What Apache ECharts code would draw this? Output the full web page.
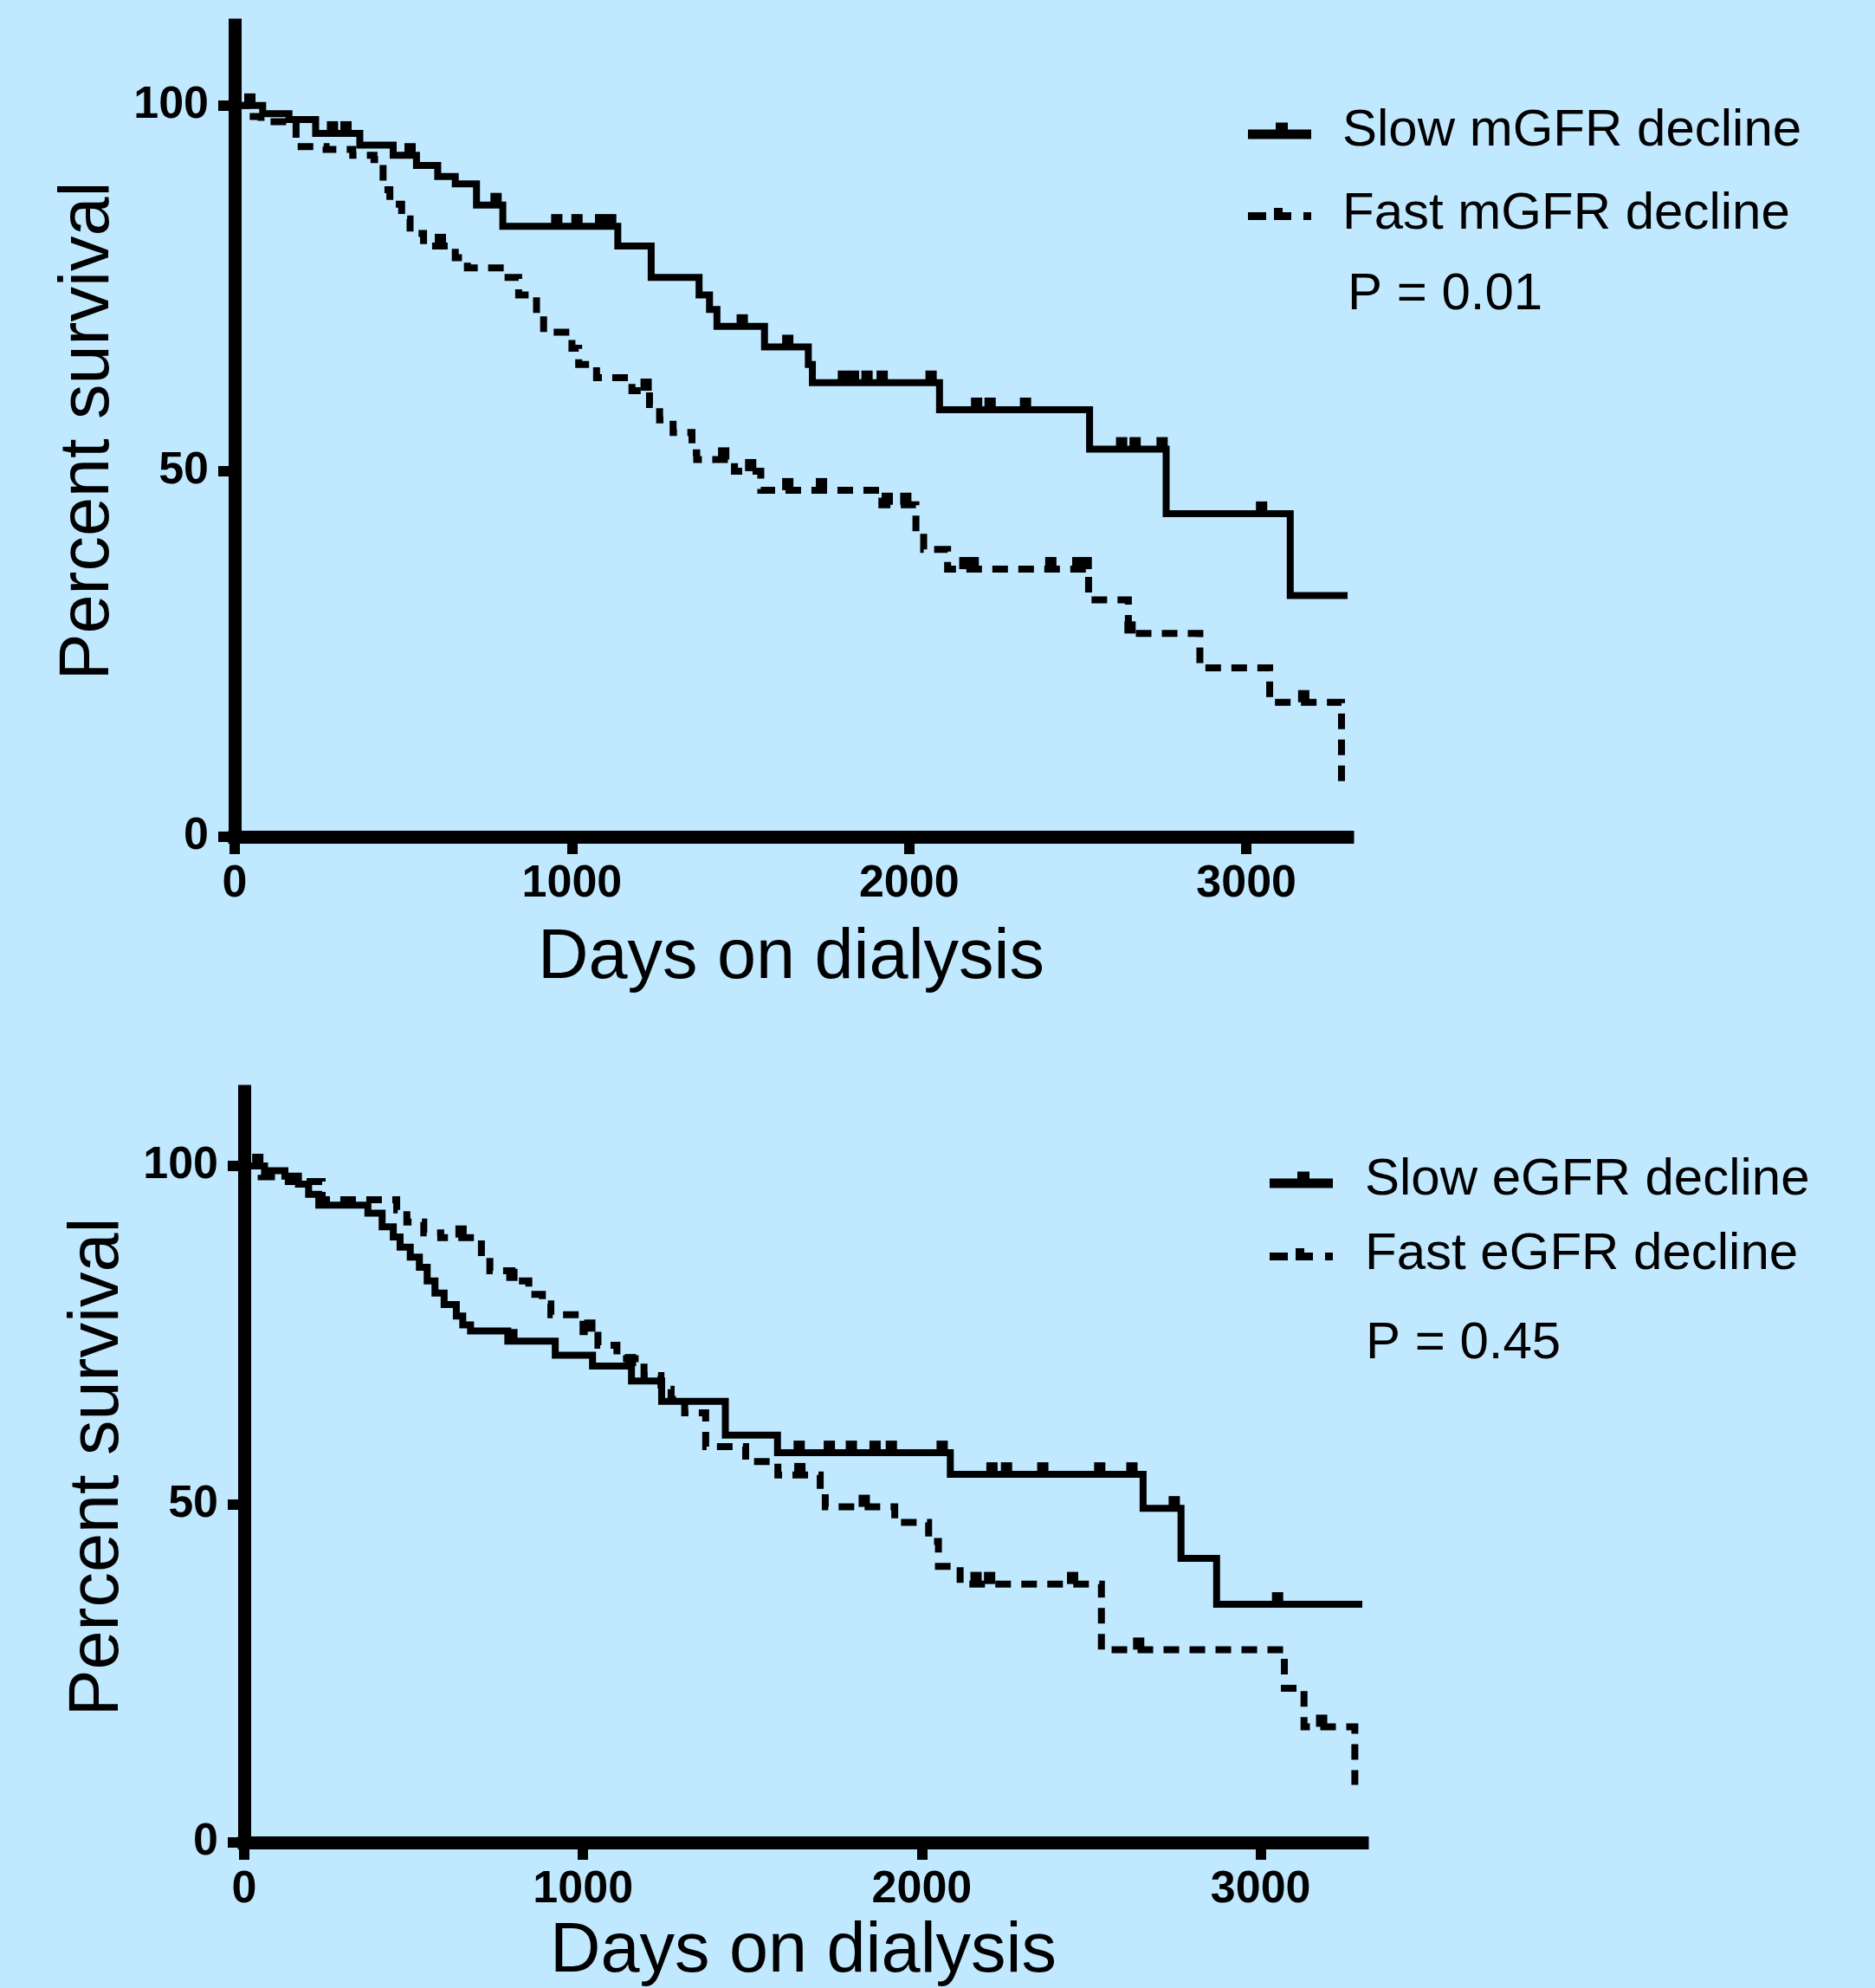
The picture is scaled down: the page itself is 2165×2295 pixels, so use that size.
<!DOCTYPE html>
<html>
<head>
<meta charset="utf-8">
<script src="https://cdn.jsdelivr.net/npm/echarts@6/dist/echarts.min.js"></script>
<style>
  html, body { margin: 0; padding: 0; background: #c0e8fe; }
  #chart { width: 2165px; height: 2295px; }
</style>
</head>
<body>
<div id="chart"></div>
<script>
// Kaplan-Meier steps: [day, percent surviving]
const slowMgfr = [[0,100],[83,98.9],[161,98.1],[240,96.2],[371,94.6],[470,93.2],[539,91.8],[602,90.3],[654,89.3],[717,86.4],[795,83.5],[1136,80.8],[1235,76.5],[1377,74.1],[1408,72.1],[1430,69.8],[1571,67.0],[1701,64.6],[1713,62.1],[2090,58.4],[2535,53.0],[2762,44.2],[3130,33.0],[3300,33.0]];
const fastMgfr = [[0,100],[36,98.5],[78,97.8],[182,94.4],[271,94.0],[350,93.2],[413,92.6],[440,88.5],[460,86.5],[495,84.5],[520,82.5],[560,80.8],[654,79.2],[690,77.8],[800,76.5],[842,74.1],[895,71.5],[916,69.0],[1000,66.8],[1020,64.6],[1073,62.8],[1178,61.0],[1230,59.1],[1260,57.0],[1300,55.3],[1356,52.5],[1370,51.6],[1482,50.0],[1560,47.4],[1919,45.4],[2020,41.6],[2043,39.3],[2114,36.6],[2532,32.4],[2650,27.8],[2862,23.1],[3069,18.4],[3282,6.9]];
const slowEgfr = [[0,100],[60,99.3],[120,98.5],[160,97.3],[190,95.8],[220,94.2],[365,93.0],[407,91.0],[440,89.5],[460,88.0],[490,86.5],[517,85.0],[540,83.0],[563,81.2],[590,79.5],[626,77.8],[645,76.5],[668,75.6],[778,74.1],[918,72.0],[1028,70.4],[1143,68.2],[1232,65.2],[1420,60.2],[1574,57.6],[2084,54.4],[2653,49.4],[2765,42.0],[2870,35.2],[3300,35.2]];
const fastEgfr = [[0,100],[50,98.4],[130,97.7],[230,95.0],[450,93.5],[480,91.7],[530,90.1],[580,89.4],[700,86.5],[725,84.5],[790,83.0],[840,81.0],[880,79.6],[905,78.0],[1000,75.5],[1044,73.5],[1100,71.5],[1180,69.0],[1230,67.0],[1260,65.5],[1300,63.5],[1362,58.5],[1480,56.3],[1575,54.3],[1700,51.5],[1715,49.6],[1920,47.3],[2020,44.5],[2049,40.8],[2113,38.2],[2530,28.5],[3070,22.8],[3128,17.1],[3278,8.5]];

// censored patients (the little ticks on the curves), days
const slowMgfrCensor = [45,290,330,520,775,955,1015,1085,1115,1505,1640,1805,1835,1875,1920,2065,2200,2240,2345,2630,2670,2750,3045];
const fastMgfrCensor = [610,1220,1450,1530,1640,1740,1935,1990,2165,2190,2420,2500,2525,2655,3170];
const slowEgfrCensor = [40,790,1140,1638,1727,1792,1862,1910,2060,2207,2250,2357,2525,2620,2745,3050];
const fastEgfrCensor = [640,790,1020,1640,1830,2160,2200,2445,2640,3180];

const xTicks = [0, 1000, 2000, 3000];
const yTicks = [0, 50, 100];
const namesTop = ['Slow mGFR decline', 'Fast mGFR decline'];
const namesBottom = ['Slow eGFR decline', 'Fast eGFR decline'];
const pValues = ['P = 0.01', 'P = 0.45'];

const FONT = '"Liberation Sans", Arial, sans-serif';
const SOLID_ICON = 'path://M0,8H32V0H46V8H73V19H0Z';
const DASH_ICON = 'path://M0,5H21V14H0ZM30,0H40V5H50V14H30ZM64,5H73V14H64Z';

function survivalAt(steps, day) {
    let v = steps[0][1];
    for (const [d, p] of steps) {
        if (d <= day) v = p; else break;
    }
    return v;
}

function xAxisFor(i, nameGap) {
    return {
        type: 'value', gridIndex: i, min: 0, max: 3300,
        axisLine: { lineStyle: { color: '#000', width: 15, cap: 'square' } },
        axisTick: { customValues: xTicks, length: 20, lineStyle: { color: '#000', width: 12 } },
        axisLabel: {
            customValues: xTicks, margin: 29, color: '#000', fontSize: 52, fontWeight: 'bold', fontFamily: FONT,
            formatter: v => String(v)
        },
        splitLine: { show: false },
        name: 'Days on dialysis', nameLocation: 'middle', nameGap: nameGap,
        nameTextStyle: { color: '#000', fontSize: 81, fontFamily: FONT }
    };
}

function yAxisFor(i, nameGap) {
    return {
        type: 'value', gridIndex: i, min: 0, max: 111,
        axisLine: { show: true, lineStyle: { color: '#000', width: 15, cap: 'square' } },
        axisTick: { show: true, customValues: yTicks, length: 19, lineStyle: { color: '#000', width: 12 } },
        axisLabel: { customValues: yTicks, margin: 30, color: '#000', fontSize: 52, fontWeight: 'bold', fontFamily: FONT },
        splitLine: { show: false },
        name: 'Percent survival', nameLocation: 'middle', nameGap: nameGap,
        nameTextStyle: { color: '#000', fontSize: 81, fontFamily: FONT }
    };
}

function kmLine(name, steps, dashed, i) {
    return {
        name: name, type: 'line', xAxisIndex: i, yAxisIndex: i,
        data: steps, step: 'end', symbol: 'none', color: '#000', silent: true, z: 3,
        lineStyle: { color: '#000', width: 8, type: dashed ? [18, 12] : 'solid', cap: 'butt', join: 'miter' }
    };
}

function censorMarks(steps, days, i) {
    return {
        type: 'scatter', xAxisIndex: i, yAxisIndex: i, silent: true, z: 4,
        symbol: 'rect', symbolSize: [13, 14], symbolOffset: [0, -7],
        itemStyle: { color: '#000', opacity: 1 },
        data: days.map(d => [d, survivalAt(steps, d)])
    };
}

function legendFor(names, left, top, gap, pad) {
    return {
        orient: 'vertical', left: left, top: top, itemGap: gap,
        itemWidth: 73, itemHeight: 19, selectedMode: false,
        itemStyle: { borderWidth: 0 },
        textStyle: { color: '#000', fontSize: 60, fontFamily: FONT, padding: [0, 0, 0, pad] },
        data: [{ name: names[0], icon: SOLID_ICON }, { name: names[1], icon: DASH_ICON }]
    };
}

const chart = echarts.init(document.getElementById('chart'));
chart.setOption({
    backgroundColor: '#c0e8fe',
    animation: false,
    grid: [
        { left: 271, top: 29, width: 1285, height: 937 },
        { left: 282, top: 1260, width: 1291, height: 877 }
    ],
    xAxis: [xAxisFor(0, 100), xAxisFor(1, 86)],
    yAxis: [yAxisFor(0, 121), yAxisFor(1, 122)],
    legend: [
        legendFor(namesTop, 1436, 116, 36, 31),
        legendFor(namesBottom, 1461, 1327, 26, 32)
    ],
    title: [
        { text: pValues[0], left: 1551, top: 305, textStyle: { color: '#000', fontSize: 60, fontWeight: 'normal', fontFamily: FONT } },
        { text: pValues[1], left: 1572, top: 1516, textStyle: { color: '#000', fontSize: 60, fontWeight: 'normal', fontFamily: FONT } }
    ],
    series: [
        kmLine(namesTop[0], slowMgfr, false, 0),
        kmLine(namesTop[1], fastMgfr, true, 0),
        censorMarks(slowMgfr, slowMgfrCensor, 0),
        censorMarks(fastMgfr, fastMgfrCensor, 0),
        kmLine(namesBottom[0], slowEgfr, false, 1),
        kmLine(namesBottom[1], fastEgfr, true, 1),
        censorMarks(slowEgfr, slowEgfrCensor, 1),
        censorMarks(fastEgfr, fastEgfrCensor, 1)
    ]
});
</script>
</body>
</html>
